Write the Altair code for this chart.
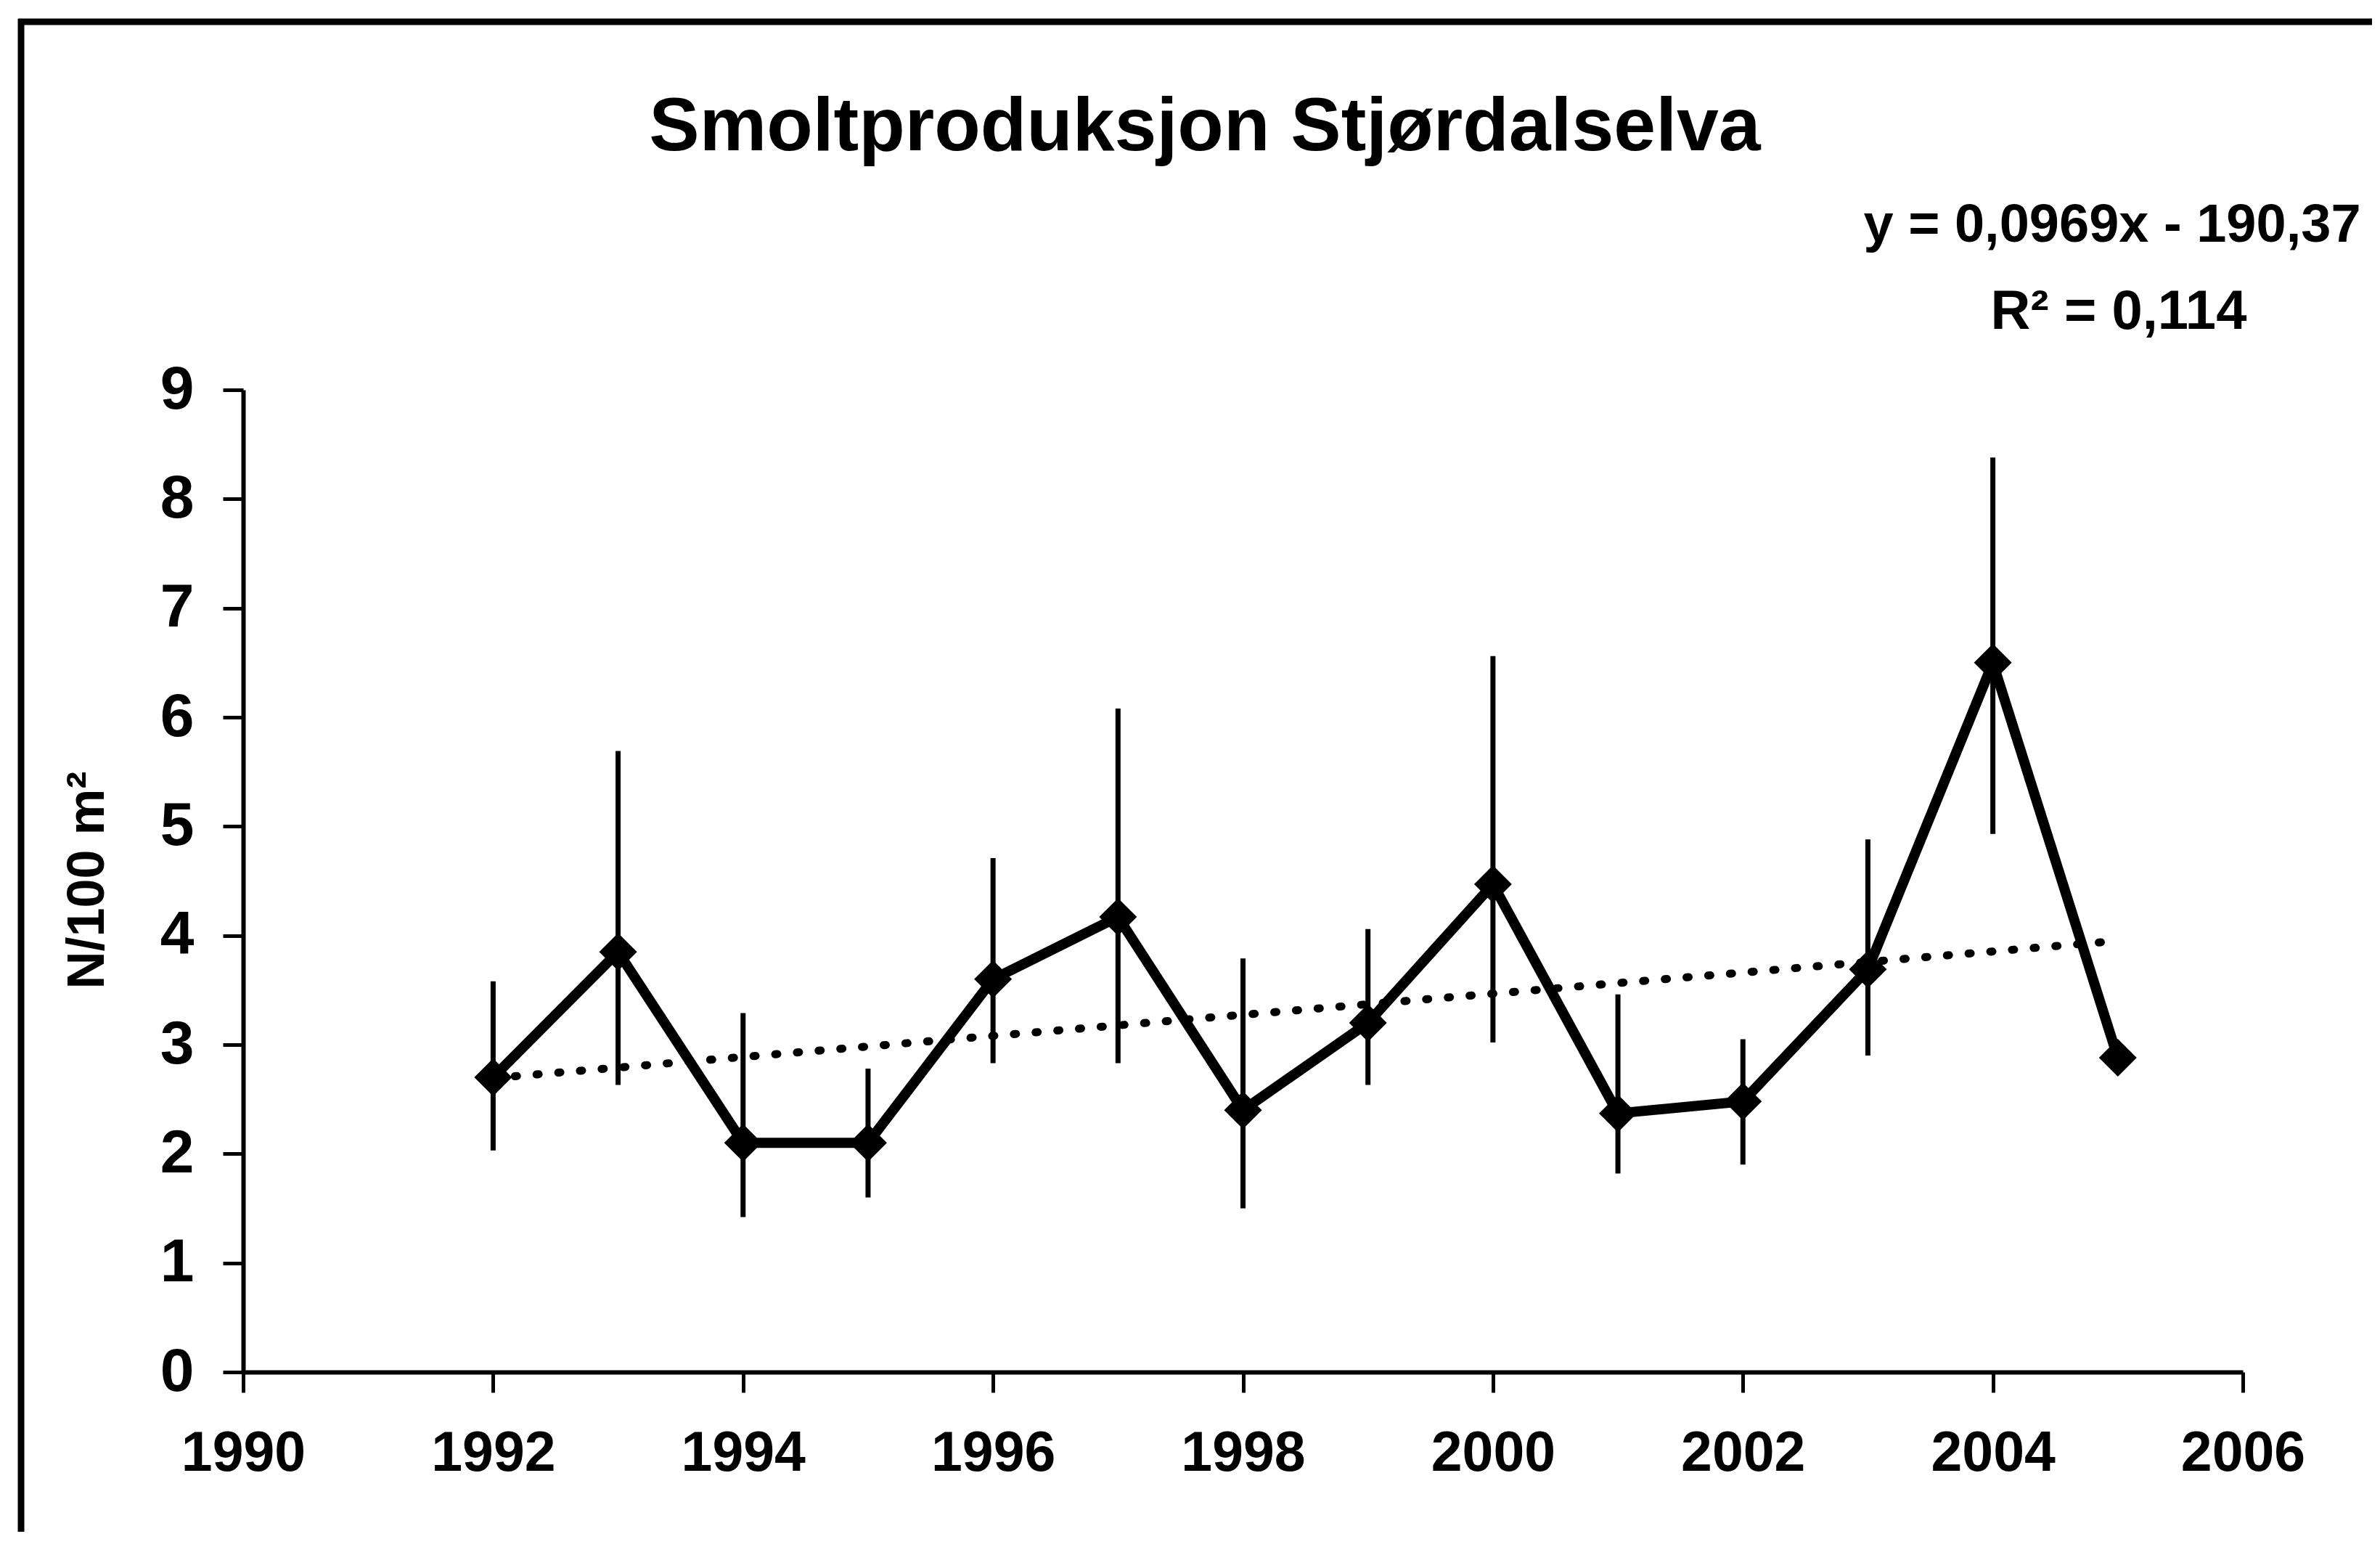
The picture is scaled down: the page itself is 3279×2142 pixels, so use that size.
import altair as alt
import pandas as pd

# ---- data ----
years = [1992, 1993, 1994, 1995, 1996, 1997, 1998, 1999, 2000, 2001, 2002, 2003, 2004, 2005]
values = [2.7, 3.85, 2.1, 2.1, 3.6, 4.17, 2.4, 3.2, 4.47, 2.37, 2.48, 3.69, 6.5, 2.88]
err_low = [2.03, 2.63, 1.42, 1.6, 2.83, 2.83, 1.5, 2.63, 3.02, 1.82, 1.9, 2.9, 4.93, None]
err_high = [3.58, 5.69, 3.29, 2.78, 4.71, 6.08, 3.79, 4.06, 6.56, 3.46, 3.05, 4.88, 8.38, None]

title_text = "Smoltproduksjon Stjørdalselva"
y_title = "N/100 m²"
eq_lines = ["y = 0,0969x - 190,37", "R² = 0,114"]
x_ticks = [1990, 1992, 1994, 1996, 1998, 2000, 2002, 2004, 2006]
y_ticks = [0, 1, 2, 3, 4, 5, 6, 7, 8, 9]

FONT = "Liberation Sans, Arial, Helvetica, sans-serif"

df = pd.DataFrame({"year": years, "value": values, "lo": err_low, "hi": err_high})
df_err = df.dropna(subset=["lo", "hi"])

W, H = 2755, 1353

xenc = alt.X("year:Q", scale=alt.Scale(domain=[1990, 2006], nice=False, zero=False),
             axis=alt.Axis(values=x_ticks, format="d", title=None, labelPadding=46,
                           labelLimit=1000, labelFlush=False, labelFontSize=77))
yenc = alt.Y("value:Q", scale=alt.Scale(domain=[0, 9], nice=False),
             axis=alt.Axis(values=y_ticks, format="d", title=y_title, labelPadding=40,
                           labelLimit=1000, labelFontSize=84,
                           titleX=-193, titleY=675, titleAngle=270,
                           titleAlign="center", titleBaseline="alphabetic",
                           titleFontSize=72))

base = alt.Chart(df)

trend = base.transform_regression("year", "value").mark_line(
    color="black", strokeWidth=11, strokeDash=[3, 27], strokeCap="round"
).encode(x=xenc, y=yenc)

errbars = alt.Chart(df_err).mark_rule(color="black", strokeWidth=7).encode(
    x=xenc, y="lo:Q", y2="hi:Q"
)

line = base.mark_line(color="black", strokeWidth=14).encode(x=xenc, y=yenc)

points = base.mark_point(shape="diamond", filled=True, size=2700, color="black", opacity=1).encode(
    x=xenc, y=yenc
)

def text_layer(txt, size, px, py):
    return alt.Chart(pd.DataFrame({"t": [txt]})).mark_text(
        font=FONT, fontSize=size, fontWeight="bold", align="center",
        baseline="alphabetic", color="black"
    ).encode(text="t:N", x=alt.value(px), y=alt.value(py))

title_mark = text_layer(title_text, 104, 1325, -330)
eq1 = text_layer(eq_lines[0], 74, 2575, -204)
eq2 = text_layer(eq_lines[1], 76, 2584, -84)

frame_df = pd.DataFrame({"k": [0]})
frame_top = alt.Chart(frame_df).mark_rule(color="black", strokeWidth=9).encode(
    x=alt.value(-310), x2=alt.value(2960), y=alt.value(-507)
)
frame_left = alt.Chart(frame_df).mark_rule(color="black", strokeWidth=9).encode(
    x=alt.value(-306), y=alt.value(-511), y2=alt.value(1640)
)

chart = alt.layer(frame_top, frame_left, trend, errbars, line, points,
                  title_mark, eq1, eq2).properties(
    width=W, height=H,
    autosize=alt.AutoSizeParams(type="none"),
    padding={"left": 327, "top": 529, "right": 178, "bottom": 220},
).configure_view(strokeWidth=0).configure_axis(
    grid=False, domainColor="black", domainWidth=6, tickColor="black", tickWidth=5,
    tickSize=28, labelFont=FONT, labelFontWeight="bold", labelColor="black",
    titleFont=FONT, titleFontWeight="bold", titleColor="black"
)

chart.save("out.html", embed_options={"renderer": "svg", "actions": False})
